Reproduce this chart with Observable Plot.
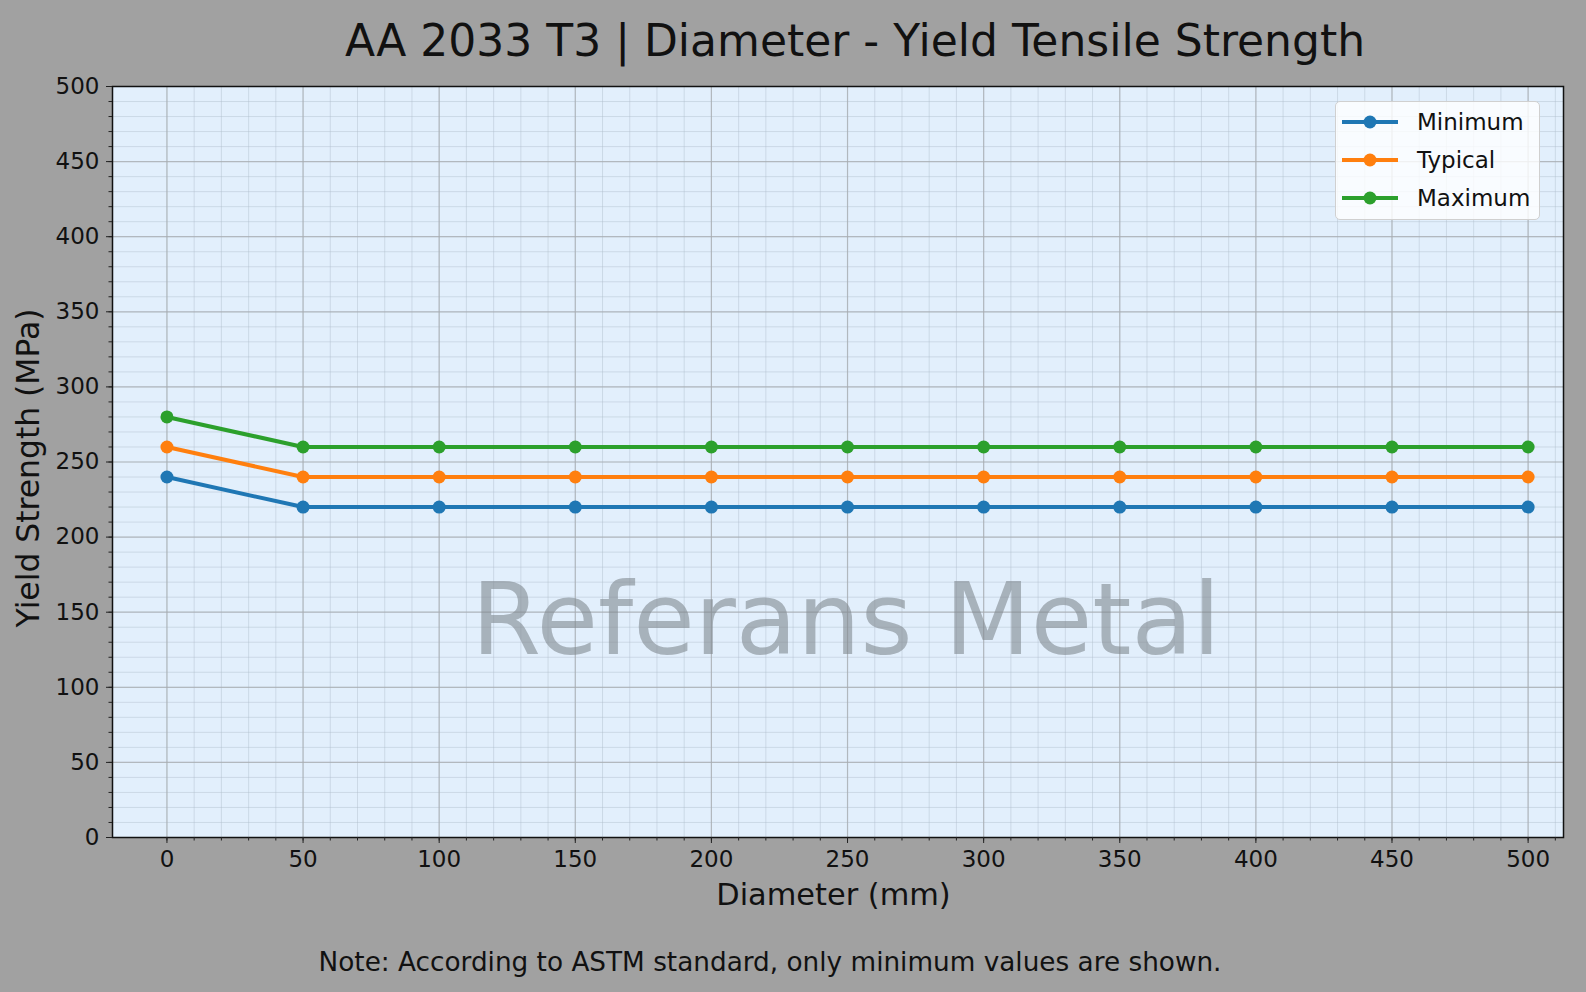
<!DOCTYPE html>
<html>
<head>
<meta charset="utf-8">
<script src="https://cdn.jsdelivr.net/npm/d3@7"></script>
<script src="https://cdn.jsdelivr.net/npm/@observablehq/plot@0.6"></script>
<style>
  html, body { margin: 0; padding: 0; background: #a1a1a1; overflow: hidden; }
  body { width: 1586px; height: 992px; position: relative; font-family: "DejaVu Sans", sans-serif; color: #111; }
  #title { position: absolute; left: 855px; top: 15px; transform: translateX(-50%); white-space: nowrap; font-size: 44px; line-height: normal; }
  #chart { position: absolute; left: 0; top: 70px; }
  #note { position: absolute; left: 770px; top: 947px; transform: translateX(-50%); white-space: nowrap; font-size: 26.3px; line-height: normal; }
  #legend { position: absolute; left: 1335px; top: 101px; width: 205px; height: 119px; background: rgba(255,255,255,0.8); border: 1px solid #d0d0d0; border-radius: 5px; box-sizing: border-box; }
  .lg-row { position: absolute; left: 0; height: 30px; display: flex; align-items: center; }
  .lg-row svg { margin-left: 6px; }
  .lg-row span { margin-left: 19px; font-size: 23px; }
</style>
</head>
<body>
<div id="title">AA 2033 T3 | Diameter - Yield Tensile Strength</div>
<div id="chart"></div>
<div id="legend"></div>
<div id="note">Note: According to ASTM standard, only minimum values are shown.</div>
<script>
// ---- data ----
const diameters = [0, 50, 100, 150, 200, 250, 300, 350, 400, 450, 500];
const minimumValues = [240, 220, 220, 220, 220, 220, 220, 220, 220, 220, 220];
const typicalValues = [260, 240, 240, 240, 240, 240, 240, 240, 240, 240, 240];
const maximumValues = [280, 260, 260, 260, 260, 260, 260, 260, 260, 260, 260];
const seriesNames = ["Minimum", "Typical", "Maximum"];
const seriesColors = ["#1f77b4", "#ff7f0e", "#2ca02c"];
const xTicks = [0, 50, 100, 150, 200, 250, 300, 350, 400, 450, 500];
const yTicks = [0, 50, 100, 150, 200, 250, 300, 350, 400, 450, 500];
const xMinorTicks = d3.range(0, 511, 10);
const yMinorTicks = d3.range(0, 501, 10);
const xLabel = "Diameter (mm)";
const yLabel = "Yield Strength (MPa)";
const watermark = "Referans Metal";

const seriesValues = [minimumValues, typicalValues, maximumValues];
const rows = [];
seriesNames.forEach((name, s) => {
  diameters.forEach((d, i) => rows.push({diameter: d, value: seriesValues[s][i], series: name}));
});

const W = 1586, H = 850;
const chart = Plot.plot({
  width: W,
  height: H,
  marginLeft: 112,
  marginRight: 23,
  marginTop: 16,
  marginBottom: 83,
  style: {background: "transparent", fontFamily: "DejaVu Sans, sans-serif", fontSize: "23px", color: "#111"},
  x: {domain: [-20, 513], label: null},
  y: {domain: [0, 500], label: null},
  color: {domain: seriesNames, range: seriesColors},
  marks: [
    Plot.frame({fill: "#e2effc", stroke: "none"}),
    Plot.ruleX(xMinorTicks, {x: d => d, stroke: "#aebccb", strokeOpacity: 0.55, strokeWidth: 0.8}),
    Plot.ruleY(yMinorTicks, {y: d => d, stroke: "#aebccb", strokeOpacity: 0.55, strokeWidth: 0.8}),
    Plot.ruleX(xTicks, {x: d => d, stroke: "#a8acb0", strokeOpacity: 0.75, strokeWidth: 1.2}),
    Plot.ruleY(yTicks, {y: d => d, stroke: "#a8acb0", strokeOpacity: 0.75, strokeWidth: 1.2}),
    Plot.text([watermark], {text: d => d, frameAnchor: "middle", dx: 8, dy: 160, fontSize: 100, fill: "#808890", fillOpacity: 0.6, fontFamily: "DejaVu Sans"}),
    Plot.line(rows, {x: "diameter", y: "value", stroke: "series", z: "series", strokeWidth: 4}),
    Plot.dot(rows, {x: "diameter", y: "value", fill: "series", r: 6.5}),
    Plot.frame({stroke: "#111", strokeWidth: 1.5}),
    Plot.axisX({ticks: xTicks, tickSize: 6, tickPadding: 7, fontSize: 23, label: null, stroke: "#222"}),
    Plot.axisX({ticks: xMinorTicks, tickSize: 3.5, tickFormat: () => "", label: null, stroke: "#222"}),
    Plot.axisY({ticks: yTicks, tickSize: 6, tickPadding: 7, fontSize: 23, label: null, stroke: "#222"}),
    Plot.axisY({ticks: yMinorTicks, tickSize: 3.5, tickFormat: () => "", label: null, stroke: "#222"}),
    Plot.text([xLabel], {text: d => d, frameAnchor: "bottom", textAnchor: "middle", lineAnchor: "top", dx: -4.5, dy: 46, fontSize: 30.4, fill: "#111"}),
    Plot.text([yLabel], {text: d => d, frameAnchor: "left", textAnchor: "middle", lineAnchor: "middle", rotate: -90, dx: -84, dy: 6, fontSize: 31.4, fill: "#111"})
  ]
});
document.getElementById("chart").appendChild(chart);

// legend
const legend = document.getElementById("legend");
const rowTops = [5, 43, 81];
seriesNames.forEach((name, i) => {
  const row = document.createElement("div");
  row.className = "lg-row";
  row.style.top = rowTops[i] + "px";
  const c = seriesColors[i];
  row.innerHTML = `<svg width="56" height="20"><line x1="0" x2="56" y1="10" y2="10" stroke="${c}" stroke-width="4"/><circle cx="28" cy="10" r="6.5" fill="${c}"/></svg><span>${name}</span>`;
  legend.appendChild(row);
});
</script>
</body>
</html>
